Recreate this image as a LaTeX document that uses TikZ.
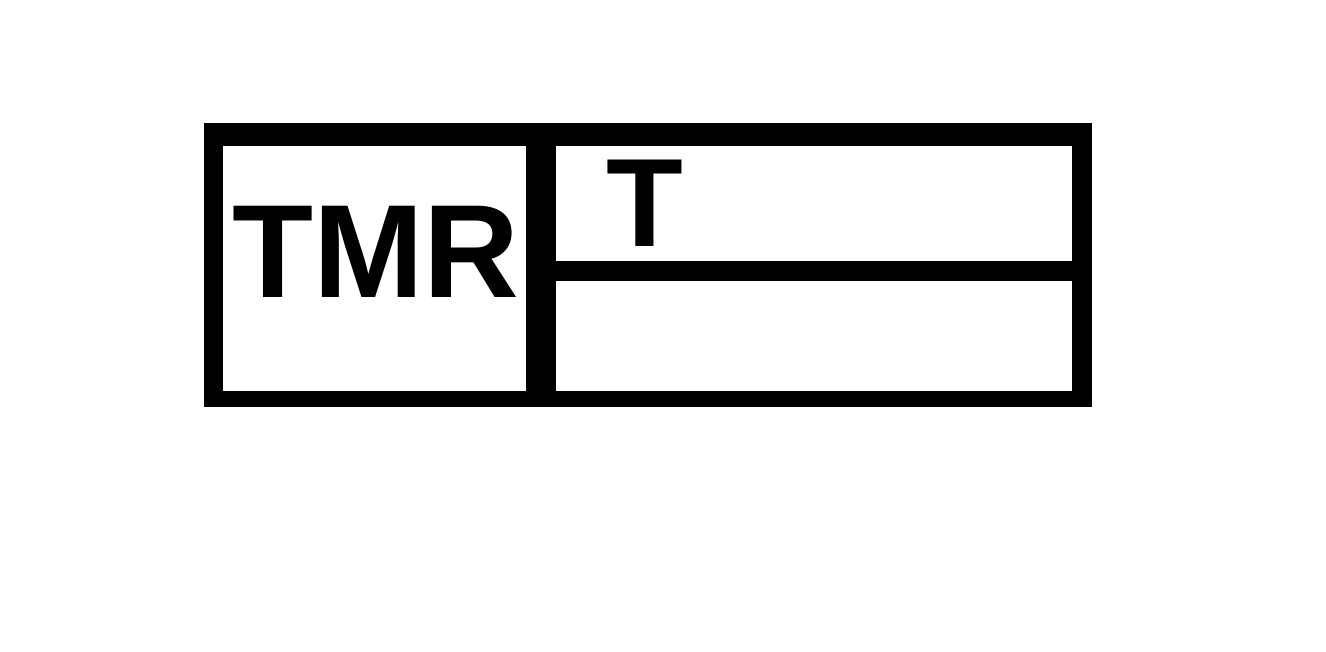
\documentclass[tikz,border=0pt]{standalone}
\usepackage{fontspec}
\setmainfont{Liberation Sans}
\tikzset{
  frame/.style={fill=black},
  cell/.style={fill=white},
  bigtext/.style={inner sep=0pt, outer sep=0pt, anchor=base, font=\bfseries\fontsize{132.7}{140}\selectfont},
  smalltext/.style={inner sep=0pt, outer sep=0pt, anchor=base, font=\bfseries\fontsize{125.7}{130}\selectfont}
}
\begin{document}
\begin{tikzpicture}[x=1pt,y=-1pt]
\fill[white] (0,0) rectangle (1326,652);
\useasboundingbox (0,0) rectangle (1326,652);
\fill[frame] (204,123) rectangle (1092,407);
\fill[cell] (223,146) rectangle (526,391);
\fill[cell] (556,146) rectangle (1072,261);
\fill[cell] (556,281) rectangle (1072,391);
\node[bigtext] (tmr) at (376,298) {TMR};
\node[smalltext] (t) at (645,246.7) {T};
\end{tikzpicture}
\end{document}
